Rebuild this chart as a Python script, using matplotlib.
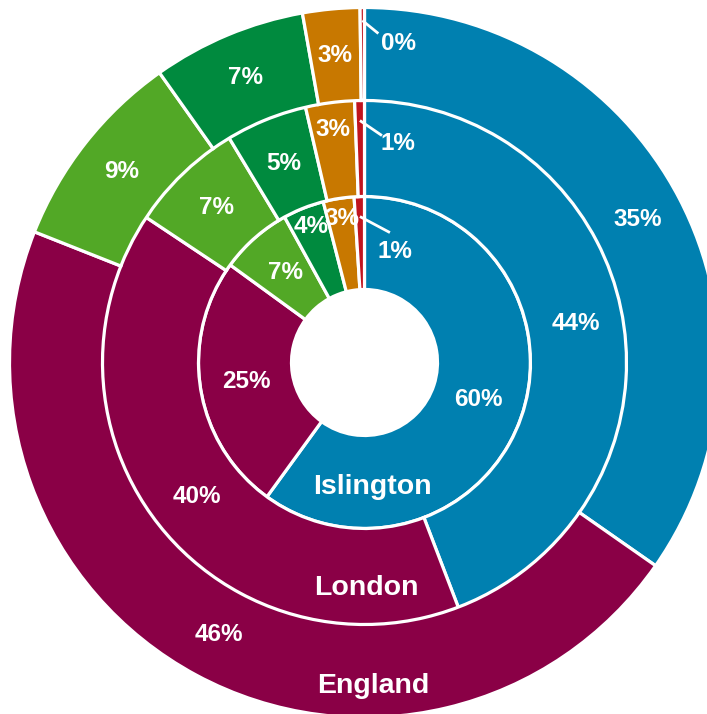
import matplotlib
matplotlib.use("Agg")
import matplotlib.pyplot as plt
import numpy as np

# ---------------- data ----------------
categories = ["Group 1", "Group 2", "Group 3", "Group 4", "Group 5", "Group 6"]
areas = ["Islington", "London", "England"]
islington = [60.0, 25.0, 7.0, 4.0, 3.0, 1.0]
london = [44.0, 40.0, 7.0, 5.0, 3.0, 0.6]
england = [34.7, 46.3, 9.2, 7.0, 2.6, 0.2]

colors = ["#0080B0", "#8A0046", "#52A826", "#008A3E", "#C87800", "#C0141E"]

# ---------------- layout ----------------
W, H = 707, 714
fig = plt.figure(figsize=(W / 100, H / 100), dpi=100)
ax = fig.add_axes([0, 0, 1, 1])

cx, cy = 364.5, H - 362.5
ring_geom = [  # (outer radius, width) in pixels, inner -> outer
    (166, 93),
    (263, 97),
    (355, 93),
]
name_pos = [(7.5, -124.5), (1.5, -225.5), (8.5, -323.5)]
leader_r = [146, 242, 342]
leader_vec = [(30, -16), (22, -15), (16, -13)]
leader_lab = [(5, -19), (16, -8), (20, -10)]
narrow_push = [20, 28, 20]
series = [islington, london, england]

font = ["Liberation Sans", "DejaVu Sans"]
edge_lw = 2.3
pct_fs = 17.5
name_fs = 20.5

for i, vals in enumerate(series):
    r_out, w = ring_geom[i]
    wedges, _ = ax.pie(vals, colors=colors, radius=r_out, center=(cx, cy),
                       startangle=90, counterclock=False,
                       wedgeprops=dict(width=w, edgecolor="white", linewidth=edge_lw),
                       frame=True)
    r_mid = r_out - w / 2
    total = sum(vals)
    for wd, v in zip(wedges, vals):
        ang = np.deg2rad((wd.theta1 + wd.theta2) / 2)
        lab = f"{round(v / total * 100)}%"
        arc = np.deg2rad(wd.theta2 - wd.theta1) * r_mid
        if v < 1.5:
            sx = cx + leader_r[i] * np.cos(ang)
            sy = cy + leader_r[i] * np.sin(ang)
            ex, ey = sx + leader_vec[i][0], sy + leader_vec[i][1]
            ax.plot([sx, ex], [sy, ey], color="white", lw=2.0,
                    solid_capstyle="butt", zorder=5)
            ax.text(ex + leader_lab[i][0], ey + leader_lab[i][1], lab, color="white",
                    fontsize=pct_fs, fontweight="bold", family=font,
                    ha="center", va="center", zorder=6)
        else:
            r_lab = r_mid if arc > 45 else r_out - narrow_push[i]
            ax.text(cx + r_lab * np.cos(ang), cy + r_lab * np.sin(ang), lab,
                    color="white", fontsize=pct_fs, fontweight="bold", family=font,
                    ha="center", va="center", zorder=6)
    ax.text(cx + name_pos[i][0], cy + name_pos[i][1], areas[i], color="white",
            fontsize=name_fs, fontweight="bold", family=font,
            ha="center", va="center", zorder=6)

ax.set_xlim(0, W)
ax.set_ylim(0, H)
ax.set_aspect("equal")
ax.axis("off")

fig.savefig("out.png", dpi=100, facecolor="white")
